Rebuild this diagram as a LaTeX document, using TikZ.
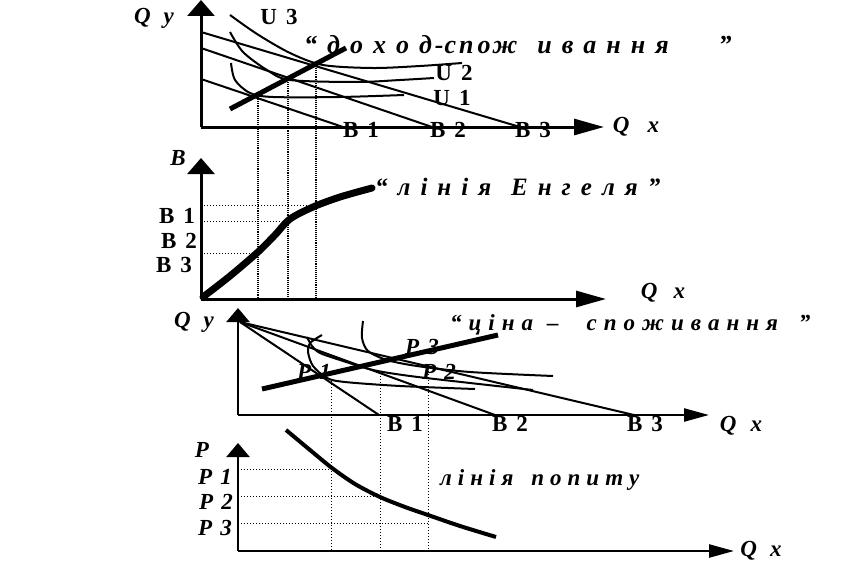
\documentclass[tikz,border=0pt]{standalone}
\usepackage{fontspec}
\setmainfont{Liberation Serif}
\usetikzlibrary{arrows.meta}
\newcommand\setgap[1]{\spaceskip=#1pt plus 0pt minus 0pt\relax}
\tikzset{
  xaxis/.style={line width=3pt,-{Triangle[length=30pt,width=16pt]}},
  yaxis/.style={line width=3pt,-{Triangle[length=16pt,width=27pt]}},
  xaxisb/.style={line width=2.4pt,-{Triangle[length=25pt,width=13pt]}},
  yaxisb/.style={line width=2.4pt,-{Triangle[length=14pt,width=23pt]}},
  budget/.style={line width=2pt},
  icurve/.style={line width=2pt},
  thickline/.style={line width=5pt},
  engel/.style={line width=7pt,line cap=round},
  demand/.style={line width=4pt},
  vdot/.style={line width=1.1pt,densely dotted},
  hdot/.style={line width=1pt,dotted},
  lab/.style={inner sep=0pt,font=\fontsize{23}{23}\selectfont\bfseries,execute at begin node={\setgap{#1}}},
  lab/.default=9,
  ilab/.style={inner sep=0pt,font=\fontsize{23}{23}\selectfont\bfseries\itshape,execute at begin node={\setgap{#1}}},
  ilab/.default=8,
  title/.style={inner sep=0pt,anchor=base west,font=\fontsize{#1}{#1}\selectfont\bfseries\itshape},
}
\begin{document}
\begin{tikzpicture}[x=1pt,y=-1pt]
\useasboundingbox (0,0) rectangle (865,578);
% ===== Panel 1 =====
\coordinate (o1) at (201,127);
\coordinate (y1) at (201,0);
\coordinate (x1) at (604,127);
\draw[yaxis] (o1) -- (y1);
\draw[xaxis] (o1) -- (x1);
\coordinate (b1s) at (201,79);  \coordinate (b1e) at (343,127);
\coordinate (b2s) at (201,48);  \coordinate (b2e) at (432,127);
\coordinate (b3s) at (201,32);  \coordinate (b3e) at (520,127);
\draw[budget] (b1s) -- (b1e);
\draw[budget] (b2s) -- (b2e);
\draw[budget] (b3s) -- (b3e);
% indifference curves
\draw[icurve] plot[smooth] coordinates {(230,15) (257,34) (290,53) (323,65) (373,68) (420,66) (462,63)};
\draw[icurve] plot[smooth] coordinates {(230,32) (243,52) (267,70) (290,80) (357,82) (400,80) (434,78)};
\draw[icurve] plot[smooth] coordinates {(231,63) (235,80) (250,93) (273,97) (340,97) (404,95)};
% income-consumption line
\coordinate (icc1) at (230,109); \coordinate (icc2) at (346,48);
\draw[thickline] (icc1) -- (icc2);
% dotted verticals
\coordinate (v1t) at (258,97);  \coordinate (v1b) at (258,299);
\coordinate (v2t) at (288,80);  \coordinate (v2b) at (288,299);
\coordinate (v3t) at (316,66);  \coordinate (v3b) at (316,299);
\draw[vdot] (v1t) -- (v1b);
\draw[vdot] (v2t) -- (v2b);
\draw[vdot] (v3t) -- (v3b);
% labels
\node[ilab=13] (qy1) at (154,18) {Q y};
\node[lab] (u3) at (279,17) {U 3};
\node[lab] (u2) at (454,73) {U 2};
\node[lab] (u1) at (452,98) {U 1};
\node[lab] (lb1) at (361,130) {B 1};
\node[lab] (lb2) at (448,130) {B 2};
\node[lab] (lb3) at (533,130) {B 3};
\node[ilab=18] (qx1) at (636,127) {Q x};
\node[title=26,execute at begin node={\setgap{10}}] (t1) at (304,54)
  {“ д о х о д\hspace{3pt}-\hspace{1pt}с\hspace{3pt}п\hspace{4pt}о\hspace{2pt}ж \ и в а н н я \ \ \ \ ”};
% ===== Panel 2 =====
\coordinate (o2) at (201,299);
\coordinate (y2) at (201,158);
\coordinate (x2) at (606,299);
\draw[yaxis] (o2) -- (y2);
\draw[xaxis] (o2) -- (x2);
\coordinate (h1s) at (201,205); \coordinate (h1e) at (316,205);
\coordinate (h2s) at (201,221); \coordinate (h2e) at (288,221);
\coordinate (h3s) at (201,253); \coordinate (h3e) at (258,253);
\draw[hdot] (h1s) -- (h1e);
\draw[hdot] (h2s) -- (h2e);
\draw[hdot] (h3s) -- (h3e);
\draw[engel] plot[smooth] coordinates {(203,297) (230,276) (258,252) (275,235) (290,219) (313,207) (340,197) (372,188)};
\node[ilab] (bb) at (178,158) {B};
\node[lab] (eb1) at (177,216) {B 1};
\node[lab] (eb2) at (179,241) {B 2};
\node[lab] (eb3) at (174,265) {B 3};
\node[ilab=16] (qx2) at (663,293) {Q x};
\node[title=25,execute at begin node={\setgap{10}}] (t2) at (375,195)
  {“ л і н і я \ Е н г е л я ”};
% ===== Panel 3 =====
\coordinate (o3) at (238,415);
\coordinate (y3) at (238,308);
\coordinate (x3) at (709,415);
\draw[yaxisb] (o3) -- (y3);
\draw[xaxisb] (o3) -- (x3);
\coordinate (ap) at (240,322);
\coordinate (c1e) at (379,415);
\coordinate (c2e) at (495,415);
\coordinate (c3e) at (634,415);
\draw[budget] (ap) -- (c1e);
\draw[budget] (ap) -- (c2e);
\draw[budget] (ap) -- (c3e);
\draw[icurve] plot[smooth] coordinates {(322,335) (310,343) (308,352) (313,366) (327,378) (345,382) (400,386) (475,389)};
\draw[icurve] plot[smooth] coordinates {(307,337) (312,346) (320,353) (340,360) (373,370) (410,376) (470,383) (533,390)};
\draw[icurve] plot[smooth] coordinates {(363,321) (362,338) (368,351) (387,360) (417,366) (470,372) (553,376)};
\coordinate (pcc1) at (262,389); \coordinate (pcc2) at (498,335);
\draw[thickline] (pcc1) -- (pcc2);
\coordinate (w1t) at (331,381); \coordinate (w1b) at (331,551);
\coordinate (w2t) at (380,373); \coordinate (w2b) at (380,551);
\coordinate (w3t) at (428,368); \coordinate (w3b) at (428,551);
\draw[hdot] (w1t) -- (w1b);
\draw[hdot] (w2t) -- (w2b);
\draw[hdot] (w3t) -- (w3b);
\node[ilab=13] (qy3) at (194,322) {Q y};
\node[ilab] (p1) at (314,372) {P 1};
\node[ilab] (p3) at (422,347) {P 3};
\node[ilab] (p2) at (439,372) {P 2};
\node[lab] (cb1) at (405,424) {B 1};
\node[lab] (cb2) at (510,424) {B 2};
\node[lab] (cb3) at (645,424) {B 3};
\node[ilab=14] (qx3) at (741,426) {Q x};
\node[title=23,execute at begin node={\setgap{7}}] (t3) at (450,330)
  {“ ц і н а \ – \ \ \ с п о ж и в а н н я \ \ ”};
% ===== Panel 4 =====
\coordinate (o4) at (238,551);
\coordinate (y4) at (238,443);
\coordinate (x4) at (734,551);
\draw[yaxisb] (o4) -- (y4);
\draw[xaxisb] (o4) -- (x4);
\coordinate (g1s) at (238,469); \coordinate (g1e) at (331,469);
\coordinate (g2s) at (238,496); \coordinate (g2e) at (380,496);
\coordinate (g3s) at (238,523); \coordinate (g3e) at (428,523);
\draw[hdot] (g1s) -- (g1e);
\draw[hdot] (g2s) -- (g2e);
\draw[hdot] (g3s) -- (g3e);
\draw[demand] plot[smooth] coordinates {(286,430) (310,450) (332,468) (355,484) (380,497) (405,507) (428,515) (460,526) (496,537)};
\node[ilab] (pp) at (202,450) {P};
\node[ilab] (pl1) at (215,477) {P 1};
\node[ilab] (pl2) at (216,502) {P 2};
\node[ilab] (pl3) at (215,528) {P 3};
\node[ilab=13] (qx4) at (761,551) {Q x};
\node[title=23,execute at begin node={\setgap{6}}] (t4) at (440,485)
  {л і н і я \ \ п о п и т у};
\end{tikzpicture}
\end{document}
